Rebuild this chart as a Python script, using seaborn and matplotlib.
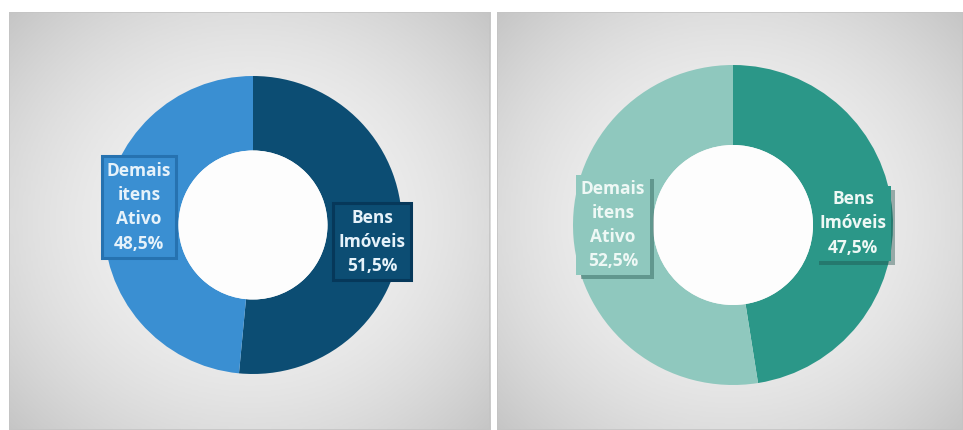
import numpy as np
import matplotlib
matplotlib.use("Agg")
import matplotlib.pyplot as plt
import matplotlib.patheffects as pe
from matplotlib.patches import Circle, Rectangle
import seaborn as sns

# ---------------- data ----------------
categories = ["Bens\nImóveis", "Demais\nitens\nAtivo"]
values_left = [51.5, 48.5]
values_right = [47.5, 52.5]

# ---------------- style ----------------
sns.set_theme(style="white")
plt.rcParams["font.family"] = ["Open Sans", "DejaVu Sans"]

pal_left = sns.color_palette(["#0c4d73", "#3a8fd2"])
pal_right = sns.color_palette(["#2b9788", "#8fc8be"])
border_left = ["#06385a", "#2672b0"]
text_left = "#e6f2fa"
text_right = "#eef8f5"

W, H = 963, 430
fig = plt.figure(figsize=(W / 100, H / 100), dpi=100)
fig.patch.set_facecolor("white")


def px_axes(x0, y0, w, h):
    """axes from pixel box (top-left origin)"""
    return fig.add_axes([x0 / W, (H - y0 - h) / H, w / W, h / H])


def panel_bg(x0, y0, w, h):
    ax = px_axes(x0, y0, w, h)
    ny, nx = 200, 200
    yy, xx = np.mgrid[-1:1:ny * 1j, -1:1:nx * 1j]
    r2 = (xx / 1.05) ** 2 + (yy / 1.1) ** 2
    v = 0.955 - 0.105 * r2
    ax.imshow(v, cmap="gray", vmin=0, vmax=1, extent=[0, 1, 0, 1],
              aspect="auto", interpolation="bicubic")
    ax.add_patch(Rectangle((0, 0), 1, 1, transform=ax.transAxes,
                           fill=False, edgecolor="#c4c4c4", lw=1.2))
    ax.set_xlim(0, 1)
    ax.set_ylim(0, 1)
    ax.axis("off")
    return ax


panel_bg(9, 12, 481, 418)
panel_bg(497, 12, 466, 418)


def donut(cx, cy, R, values, colors, label_pos, boxed, borders, tcolor):
    ax = px_axes(cx - R, cy - R, 2 * R, 2 * R)
    ax.patch.set_alpha(0)
    ax.pie(values, colors=colors, startangle=90, counterclock=False,
           wedgeprops=dict(width=0.5, edgecolor="none"), radius=1)
    ax.add_patch(Circle((0, 0), 0.5, facecolor="#fdfdfd", edgecolor="none"))
    ax.set_xlim(-1, 1)
    ax.set_ylim(-1, 1)
    ax.set_aspect("equal")
    ax.axis("off")
    for i, (cat, val) in enumerate(zip(categories, values)):
        txt = f"{cat}\n{val:.1f}%".replace(".", ",")
        x, y = label_pos[i]
        kw = dict(ha="center", va="center", fontsize=12.5, fontweight="bold",
                  linespacing=1.45, zorder=5)
        if boxed:
            ax.text(x, y, txt, color=tcolor,
                    bbox=dict(boxstyle="square,pad=0.3", facecolor=colors[i],
                              edgecolor=borders[i], lw=2.2), **kw)
        else:
            t = ax.text(x, y, txt, color=tcolor,
                        bbox=dict(boxstyle="square,pad=0.25",
                                  facecolor=colors[i], edgecolor="none"), **kw)
            t.get_bbox_patch().set_path_effects([
                pe.SimplePatchShadow(offset=(3, -3), shadow_rgbFace="#1e4e48",
                                     alpha=0.4),
                pe.Normal()])
    return ax


donut(253, 225, 149, values_left, pal_left,
      [(0.80, -0.114), (-0.765, 0.12)], True, border_left, text_left)
donut(733, 225, 160, values_right, pal_right,
      [(0.75, 0.01), (-0.75, 0.0)], False, None, text_right)

fig.savefig("out.png", dpi=100)
